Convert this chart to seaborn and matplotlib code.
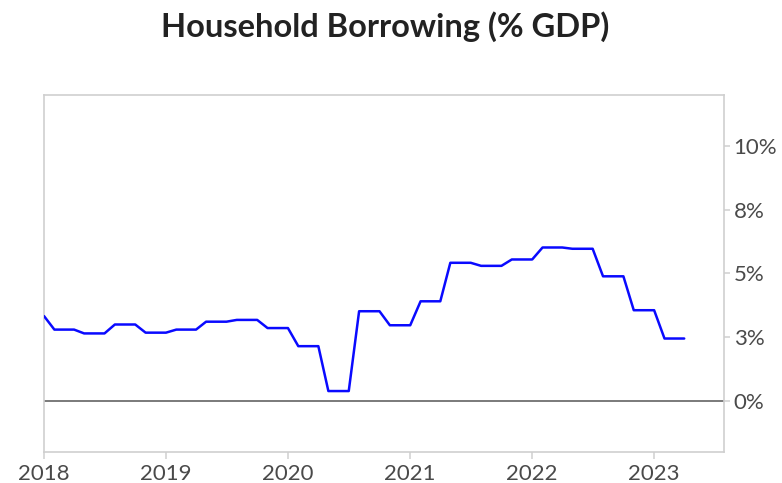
import matplotlib
matplotlib.use("Agg")
import matplotlib.pyplot as plt
import matplotlib.dates as mdates
import numpy as np
import pandas as pd
import seaborn as sns

# Monthly household borrowing, % of GDP (quarterly readings carried across months)
months = pd.date_range("2018-01-01", "2023-04-01", freq="MS")
borrowing = [
    # 2018
    3.33, 2.80, 2.80, 2.80, 2.65, 2.65, 2.65, 3.00, 3.00, 3.00, 2.68, 2.68,
    # 2019
    2.68, 2.80, 2.80, 2.80, 3.11, 3.11, 3.11, 3.18, 3.18, 3.18, 2.86, 2.86,
    # 2020
    2.86, 2.15, 2.15, 2.15, 0.39, 0.39, 0.39, 3.52, 3.52, 3.52, 2.97, 2.97,
    # 2021
    2.97, 3.91, 3.91, 3.91, 5.42, 5.42, 5.42, 5.30, 5.30, 5.30, 5.55, 5.55,
    # 2022
    5.55, 6.02, 6.02, 6.02, 5.97, 5.97, 5.97, 4.89, 4.89, 4.89, 3.56, 3.56,
    # 2023
    3.56, 2.45, 2.45, 2.45,
]
y_ticks = [0, 2.5, 5, 7.5, 10]
y_tick_labels = ["0%", "3%", "5%", "8%", "10%"]
title = "Household Borrowing (% GDP)"

df = pd.DataFrame({"month": months, "borrowing": borrowing})

sns.set_theme(style="white")
plt.rcParams["font.family"] = ["Lato", "DejaVu Sans"]

fig = plt.figure(figsize=(7.82, 4.83), dpi=100)
ax = fig.add_axes([0.0563, 0.0642, 0.8695, 0.7391])

ax.axhline(0, color="#7a7a7a", linewidth=1.4, zorder=1)
sns.lineplot(data=df, x="month", y="borrowing", ax=ax, color="#0a0aff",
             linewidth=1.8, zorder=3)

ax.set_xlim(pd.Timestamp("2018-01-01"), pd.Timestamp("2023-07-29"))
ax.set_ylim(-2, 12)

ax.xaxis.set_major_locator(mdates.YearLocator())
ax.xaxis.set_major_formatter(mdates.DateFormatter("%Y"))
ax.set_yticks(y_ticks)
ax.set_yticklabels(y_tick_labels)
ax.yaxis.tick_right()

ax.set_xlabel("")
ax.set_ylabel("")

for side in ["left", "right", "top", "bottom"]:
    ax.spines[side].set_visible(True)
    ax.spines[side].set_color("#cfcfcf")
    ax.spines[side].set_linewidth(1.2)

ax.tick_params(axis="x", bottom=True, length=5, width=1.1, color="#cfcfcf",
               labelsize=16, labelcolor="#4a4a4a", pad=4)
ax.tick_params(axis="y", right=True, left=False, length=4, width=1.1,
               color="#cfcfcf", labelsize=16, labelcolor="#4a4a4a", pad=3)

fig.text(0.492, 0.944, title, ha="center", va="center", fontsize=23.5,
         fontweight="bold", color="#222222")

fig.savefig("out.png", dpi=100)
